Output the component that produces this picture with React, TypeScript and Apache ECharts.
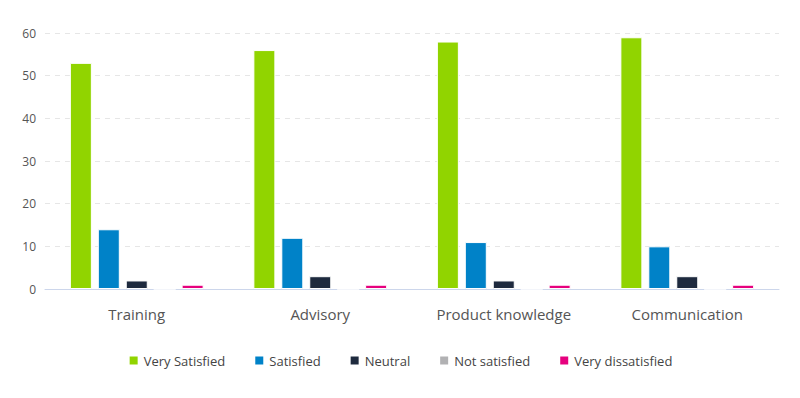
import React, { useEffect, useRef } from "react";
import * as echarts from "echarts";

const categories = ["Training", "Advisory", "Product knowledge", "Communication"];
const seriesNames = ["Very Satisfied", "Satisfied", "Neutral", "Not satisfied", "Very dissatisfied"];
const verySatisfied = [53, 56, 58, 59];
const satisfied = [14, 12, 11, 10];
const neutral = [2, 3, 2, 3];
const notSatisfied = [0, 0, 0, 0];
const veryDissatisfied = [1, 1, 1, 1];
const colors = ["#91d400", "#0082c8", "#1e2a3e", "#b1b1b3", "#e6007e"];

export default function App() {
  const ref = useRef<HTMLDivElement>(null);
  useEffect(() => {
    if (!ref.current) return;
    const chart = echarts.init(ref.current, undefined, { renderer: "svg" });
    const data = [verySatisfied, satisfied, neutral, notSatisfied, veryDissatisfied];
    const font = "'Open Sans', sans-serif";
    chart.setOption({
      animation: false,
      textStyle: { fontFamily: font },
      grid: { left: 45, right: 21, top: 33, bottom: 109, containLabel: false },
      legend: {
        bottom: 26,
        left: "center",
        itemWidth: 10,
        itemHeight: 10,
        itemGap: 28,
        icon: "rect",
        textStyle: { fontSize: 13, color: "#444", fontFamily: font },
        data: seriesNames,
      },
      xAxis: {
        type: "category",
        data: categories,
        axisLine: { lineStyle: { color: "#ccd6eb" } },
        axisTick: { show: false },
        axisLabel: { fontSize: 15, color: "#555", margin: 17, fontFamily: font },
      },
      yAxis: {
        type: "value",
        min: 0,
        max: 60,
        interval: 10,
        axisLabel: { fontSize: 12, color: "#555", margin: 9, fontFamily: font },
        splitLine: { lineStyle: { color: "#e6e6e6", type: [5, 5] } },
      },
      series: seriesNames.map((name, i) => ({
        name,
        type: "bar",
        data: data[i],
        barWidth: 22,
        barGap: "27%",
        itemStyle: { color: colors[i], borderColor: "#fff", borderWidth: 1 },
      })),
    });
    return () => chart.dispose();
  }, []);
  return <div ref={ref} style={{ width: 800, height: 398, position: "absolute", left: 0, top: 0 }} />;
}
